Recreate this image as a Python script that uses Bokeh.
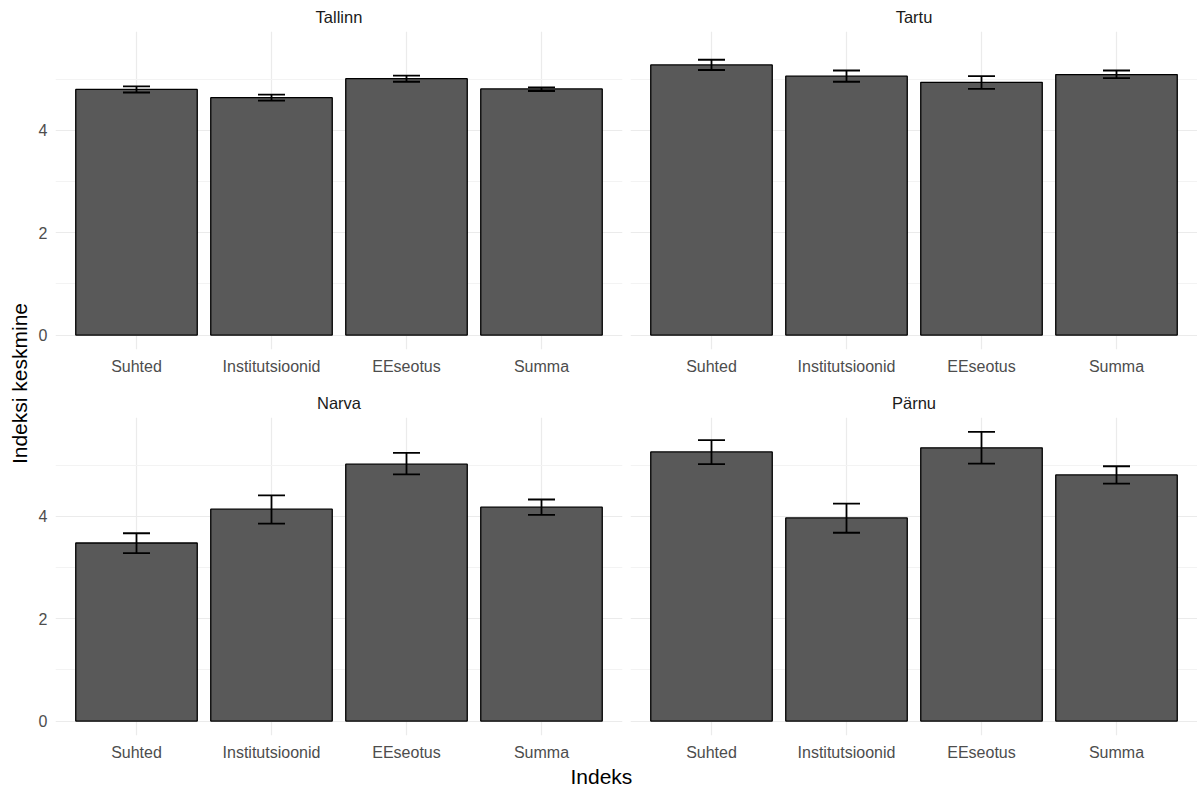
from math import pi
from bokeh.plotting import figure
from bokeh.layouts import row, column
from bokeh.models import FactorRange, Range1d, FixedTicker, Whisker, TeeHead, ColumnDataSource
from bokeh.core.properties import value
from bokeh.embed import file_html
from bokeh.resources import INLINE

indices = ["Suhted", "Institutsioonid", "EEseotus", "Summa"]
cities = ["Tallinn", "Tartu", "Narva", "Pärnu"]

tallinn_mean = [4.80, 4.64, 5.01, 4.81]
tallinn_lower = [4.74, 4.58, 4.95, 4.77]
tallinn_upper = [4.86, 4.70, 5.07, 4.84]

tartu_mean = [5.28, 5.06, 4.94, 5.09]
tartu_lower = [5.18, 4.95, 4.81, 5.02]
tartu_upper = [5.38, 5.17, 5.06, 5.17]

narva_mean = [3.48, 4.14, 5.02, 4.18]
narva_lower = [3.28, 3.86, 4.82, 4.03]
narva_upper = [3.67, 4.41, 5.24, 4.33]

parnu_mean = [5.26, 3.97, 5.34, 4.81]
parnu_lower = [5.02, 3.68, 5.03, 4.64]
parnu_upper = [5.49, 4.25, 5.65, 4.98]

y_ticks = [0, 2, 4]
y_minor = [1, 3, 5]

FONT = "Liberation Sans"
FW = 567
FH = 318
YLAB_W = 35

all_upper = tallinn_upper + tartu_upper + narva_upper + parnu_upper
ymax = max(all_upper)
pad = 0.05 * ymax


def make_panel(city, means, lows, highs, show_y, bottom_border):
    src = ColumnDataSource(dict(idx=indices, mean=means, lower=lows, upper=highs))
    p = figure(
        x_range=FactorRange(*indices, range_padding=0.1, range_padding_units="absolute"),
        y_range=Range1d(-pad, ymax + pad),
        frame_width=FW, frame_height=FH,
        output_backend="svg", toolbar_location=None,
        min_border_left=20 if show_y else 4, min_border_right=4 if show_y else 0,
        min_border_top=0, min_border_bottom=bottom_border,
        title=city,
    )
    p.title.align = "center"
    p.title.text_font = FONT
    p.title.text_font_size = "16.5px"
    p.title.text_font_style = "normal"
    p.title.text_color = "#1a1a1a"
    p.title.standoff = 11
    p.outline_line_color = None
    p.background_fill_color = "white"

    p.vbar(x="idx", top="mean", bottom=0, width=0.9, source=src,
           fill_color="#595959", line_color="black", line_width=1.3)
    w = Whisker(base="idx", upper="upper", lower="lower", source=src, level="overlay",
                line_color="black", line_width=1.8,
                upper_head=TeeHead(size=27, line_color="black", line_width=1.8),
                lower_head=TeeHead(size=27, line_color="black", line_width=1.8))
    p.add_layout(w)

    p.yaxis.ticker = FixedTicker(ticks=y_ticks, minor_ticks=y_minor)
    for ax in (p.xaxis[0], p.yaxis[0]):
        ax.axis_line_color = None
        ax.major_tick_line_color = None
        ax.minor_tick_line_color = None
        ax.major_tick_in = 0
        ax.major_tick_out = 0
        ax.minor_tick_in = 0
        ax.minor_tick_out = 0
        ax.major_label_text_font = FONT
        ax.major_label_text_font_size = "16px"
        ax.major_label_text_color = "#4d4d4d"
    p.xaxis.major_label_standoff = 8
    p.yaxis.major_label_standoff = 8
    if not show_y:
        p.yaxis.visible = False

    p.xgrid.grid_line_color = "#ebebeb"
    p.xgrid.grid_line_width = 1.2
    p.ygrid.grid_line_color = "#ebebeb"
    p.ygrid.grid_line_width = 1.2
    p.ygrid.minor_grid_line_color = "#f3f3f3"
    p.ygrid.minor_grid_line_width = 1
    return p


p1 = make_panel(cities[0], tallinn_mean, tallinn_lower, tallinn_upper, True, 37)
p2 = make_panel(cities[1], tartu_mean, tartu_lower, tartu_upper, False, 37)
p3 = make_panel(cities[2], narva_mean, narva_lower, narva_upper, True, 0)
p4 = make_panel(cities[3], parnu_mean, parnu_lower, parnu_upper, False, 0)

grid_width = (FW + 20 + 4) + (FW + 4)

xlab = figure(width=grid_width, height=26, x_range=Range1d(0, grid_width), y_range=Range1d(0, 1),
              output_backend="svg", toolbar_location=None,
              x_axis_type=None, y_axis_type=None, min_border=0)
xlab.outline_line_color = None
xlab.xgrid.visible = False
xlab.ygrid.visible = False
xlab.text(x=[grid_width * 0.487], y=[0.5], text=["Indeks"], text_align="center",
          text_baseline="middle", text_font=value(FONT), text_font_size="21px", text_color="black")

ylab = figure(width=YLAB_W, height=760, x_range=Range1d(0, 1), y_range=Range1d(0, 1),
              output_backend="svg", toolbar_location=None,
              x_axis_type=None, y_axis_type=None, min_border=0)
ylab.outline_line_color = None
ylab.xgrid.visible = False
ylab.ygrid.visible = False
ylab.text(x=[0.55], y=[0.496], text=["Indeksi keskmine"], angle=pi / 2, text_align="center",
          text_baseline="middle", text_font=value(FONT), text_font_size="21px", text_color="black")

layout = row(ylab, column(row(p1, p2), row(p3, p4), xlab))

open("out.html", "w").write(file_html(layout, INLINE))
